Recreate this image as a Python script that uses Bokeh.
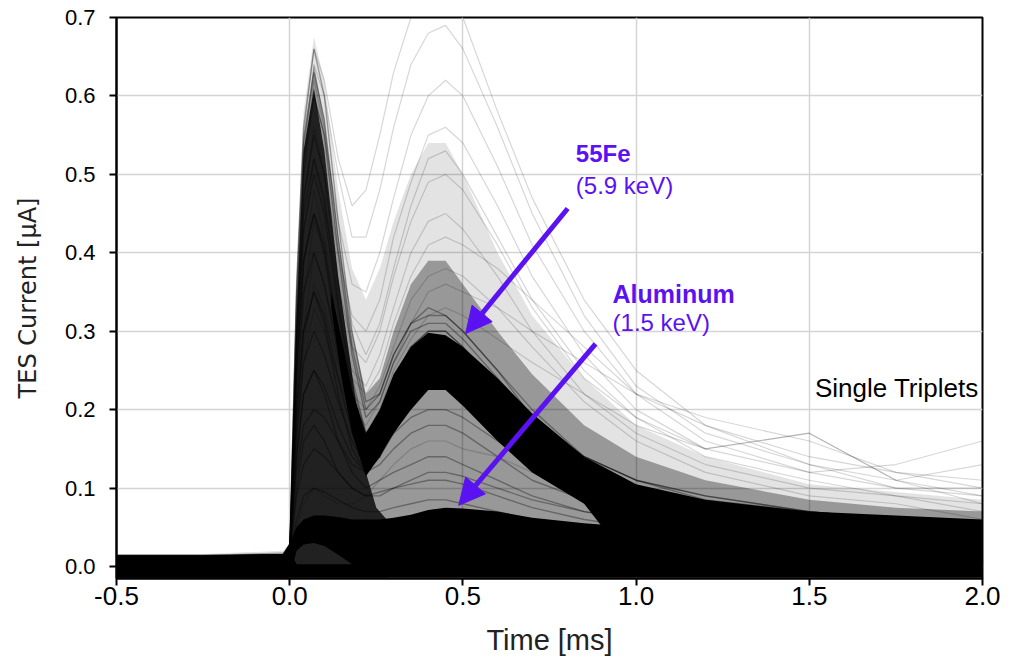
from bokeh.plotting import figure
from bokeh.models import Range1d, FixedTicker, PrintfTickFormatter, Label, Arrow, NormalHead
from bokeh.embed import file_html
from bokeh.resources import INLINE

# ---------------- data ----------------
t_ms = [-0.5, -0.25, -0.02, 0.0, 0.02, 0.04, 0.07, 0.10, 0.14, 0.18, 0.22, 0.26,
        0.30, 0.35, 0.40, 0.45, 0.50, 0.60, 0.70, 0.85, 1.0, 1.2, 1.5, 1.75, 2.0]

floor_ua = [-0.014] * 25

# density envelopes of the pulse cloud (upper edges)
light_hi = [0.016, 0.016, 0.02, 0.03, 0.38, 0.58, 0.675, 0.62, 0.48, 0.38, 0.34, 0.38,
            0.44, 0.50, 0.54, 0.54, 0.50, 0.40, 0.32, 0.24, 0.18, 0.14, 0.105, 0.095, 0.085]
mid_hi = [0.015, 0.015, 0.018, 0.025, 0.33, 0.55, 0.64, 0.57, 0.42, 0.30, 0.22, 0.24,
          0.30, 0.36, 0.39, 0.39, 0.36, 0.30, 0.245, 0.18, 0.14, 0.11, 0.085, 0.075, 0.07]
spike_t = [-0.5, -0.25, -0.02, 0.0, 0.02, 0.04, 0.07, 0.10, 0.14, 0.18, 0.22, 0.25, 0.28]
spike_hi = [0.015, 0.015, 0.016, 0.02, 0.32, 0.53, 0.61, 0.53, 0.37, 0.245, 0.12, 0.075, 0.06]

# baseline band
base_hi = [0.014, 0.014, 0.016, 0.02, 0.003, 0.003, 0.003, 0.003, 0.003, 0.003, 0.003, 0.003,
           0.004, 0.006, 0.008, 0.01, 0.01, 0.01, 0.01, 0.01, 0.01, 0.008, 0.006, 0.005, 0.004]
# small pulses + Aluminum band
low_lo = [-0.014, -0.014, -0.014, -0.014, 0.02, 0.028, 0.03, 0.026, 0.015, 0.003, -0.005, -0.008,
          -0.008, -0.008, -0.008, -0.008, -0.008, -0.008, -0.008, -0.008, -0.008, -0.008, -0.008, -0.008, -0.008]
low_hi = [0.014, 0.014, 0.016, 0.03, 0.05, 0.06, 0.065, 0.065, 0.063, 0.06, 0.06, 0.06,
          0.062, 0.066, 0.072, 0.075, 0.074, 0.07, 0.062, 0.055, 0.05, 0.048, 0.045, 0.045, 0.045]
# 55Fe band (with the falling branch of the first peak)
fe_t = [0.12, 0.15, 0.18, 0.22, 0.26, 0.30, 0.35, 0.40, 0.45, 0.50, 0.60, 0.70, 0.85,
        1.0, 1.2, 1.5, 1.75, 2.0]
fe_lo = [0.33, 0.24, 0.17, 0.115, 0.14, 0.17, 0.20, 0.225, 0.225, 0.205, 0.16, 0.12, 0.08,
         -0.005, -0.005, -0.005, -0.005, -0.005]
fe_hi = [0.35, 0.29, 0.225, 0.17, 0.20, 0.245, 0.28, 0.298, 0.295, 0.28, 0.24, 0.195, 0.14,
         0.105, 0.085, 0.07, 0.065, 0.06]

# individual traces of the main population
main_traces = [
    [0.004, 0.006, 0.008, 0.015, 0.36, 0.56, 0.66, 0.60, 0.44, 0.30, 0.21, 0.22, 0.27, 0.31, 0.33, 0.32, 0.30, 0.25, 0.20, 0.14, 0.11, 0.09, 0.07, 0.06, 0.055],
    [0.002, 0.004, 0.010, 0.015, 0.33, 0.52, 0.60, 0.55, 0.40, 0.27, 0.19, 0.21, 0.26, 0.30, 0.31, 0.31, 0.29, 0.24, 0.19, 0.14, 0.11, 0.085, 0.07, 0.06, 0.05],
    [0.006, 0.003, 0.007, 0.015, 0.30, 0.47, 0.55, 0.50, 0.36, 0.24, 0.17, 0.19, 0.24, 0.28, 0.30, 0.30, 0.28, 0.23, 0.18, 0.13, 0.10, 0.08, 0.065, 0.06, 0.05],
    [0.004, 0.005, 0.008, 0.015, 0.27, 0.43, 0.50, 0.45, 0.33, 0.22, 0.16, 0.18, 0.23, 0.27, 0.29, 0.29, 0.27, 0.22, 0.17, 0.13, 0.10, 0.08, 0.065, 0.055, 0.05],
    [0.003, 0.006, 0.009, 0.015, 0.25, 0.39, 0.45, 0.41, 0.30, 0.20, 0.15, 0.17, 0.22, 0.26, 0.28, 0.28, 0.26, 0.21, 0.17, 0.12, 0.095, 0.075, 0.06, 0.055, 0.05],
    [0.005, 0.004, 0.008, 0.015, 0.22, 0.35, 0.40, 0.36, 0.27, 0.19, 0.14, 0.16, 0.21, 0.25, 0.27, 0.27, 0.25, 0.20, 0.16, 0.12, 0.09, 0.075, 0.06, 0.05, 0.045],
    [0.004, 0.006, 0.007, 0.015, 0.20, 0.30, 0.35, 0.32, 0.24, 0.17, 0.13, 0.15, 0.20, 0.24, 0.26, 0.26, 0.24, 0.19, 0.15, 0.11, 0.09, 0.07, 0.06, 0.05, 0.045],
    [0.003, 0.005, 0.009, 0.015, 0.17, 0.26, 0.30, 0.27, 0.21, 0.16, 0.125, 0.14, 0.19, 0.23, 0.25, 0.25, 0.23, 0.19, 0.15, 0.11, 0.09, 0.07, 0.06, 0.05, 0.045],
    [0.005, 0.004, 0.008, 0.015, 0.14, 0.22, 0.25, 0.23, 0.18, 0.14, 0.12, 0.14, 0.18, 0.22, 0.24, 0.24, 0.22, 0.18, 0.14, 0.10, 0.085, 0.07, 0.055, 0.05, 0.045],
    [0.004, 0.006, 0.009, 0.015, 0.12, 0.18, 0.20, 0.19, 0.16, 0.13, 0.12, 0.14, 0.17, 0.21, 0.23, 0.23, 0.21, 0.17, 0.13, 0.10, 0.08, 0.065, 0.055, 0.05, 0.04],
    [0.003, 0.005, 0.008, 0.015, 0.09, 0.13, 0.15, 0.14, 0.12, 0.10, 0.09, 0.09, 0.10, 0.11, 0.12, 0.12, 0.115, 0.10, 0.085, 0.07, 0.06, 0.05, 0.045, 0.04, 0.035],
    [0.005, 0.004, 0.007, 0.015, 0.06, 0.09, 0.10, 0.095, 0.085, 0.075, 0.07, 0.07, 0.075, 0.08, 0.085, 0.085, 0.08, 0.07, 0.06, 0.05, 0.045, 0.04, 0.035, 0.03, 0.03],
    [0.004, 0.005, 0.008, 0.015, 0.19, 0.30, 0.35, 0.31, 0.22, 0.15, 0.12, 0.13, 0.15, 0.17, 0.18, 0.18, 0.17, 0.14, 0.11, 0.085, 0.07, 0.06, 0.05, 0.045, 0.04],
    [0.003, 0.006, 0.009, 0.015, 0.14, 0.22, 0.25, 0.22, 0.16, 0.12, 0.10, 0.11, 0.12, 0.13, 0.14, 0.14, 0.13, 0.11, 0.09, 0.07, 0.06, 0.05, 0.045, 0.04, 0.035],
    [0.005, 0.004, 0.008, 0.015, 0.25, 0.39, 0.45, 0.40, 0.28, 0.19, 0.14, 0.15, 0.17, 0.19, 0.20, 0.20, 0.19, 0.16, 0.13, 0.095, 0.075, 0.06, 0.05, 0.045, 0.04],
    [0.004, 0.006, 0.007, 0.015, 0.10, 0.16, 0.18, 0.16, 0.12, 0.10, 0.09, 0.095, 0.10, 0.105, 0.11, 0.11, 0.105, 0.09, 0.075, 0.06, 0.05, 0.045, 0.04, 0.035, 0.03],
    [0.003, 0.005, 0.009, 0.015, 0.35, 0.54, 0.63, 0.57, 0.42, 0.28, 0.20, 0.22, 0.27, 0.31, 0.32, 0.32, 0.30, 0.25, 0.19, 0.14, 0.11, 0.09, 0.07, 0.06, 0.05],
    [0.005, 0.004, 0.008, 0.015, 0.29, 0.45, 0.52, 0.47, 0.34, 0.23, 0.17, 0.19, 0.24, 0.28, 0.30, 0.30, 0.28, 0.22, 0.18, 0.13, 0.10, 0.08, 0.065, 0.055, 0.05],
]

# sparse outlier traces
faint_traces = [
    [0.004, 0.006, 0.008, 0.02, 0.35, 0.55, 0.66, 0.62, 0.52, 0.46, 0.48, 0.55, 0.63, 0.70, 0.74, 0.74, 0.70, 0.58, 0.47, 0.34, 0.25, 0.18, 0.13, 0.10, 0.09],
    [0.002, 0.005, 0.010, 0.02, 0.33, 0.52, 0.64, 0.60, 0.50, 0.42, 0.42, 0.48, 0.56, 0.64, 0.68, 0.69, 0.66, 0.56, 0.45, 0.32, 0.23, 0.17, 0.13, 0.11, 0.09],
    [0.006, 0.004, 0.008, 0.02, 0.30, 0.50, 0.60, 0.55, 0.44, 0.36, 0.35, 0.40, 0.47, 0.55, 0.60, 0.62, 0.60, 0.51, 0.41, 0.30, 0.22, 0.16, 0.12, 0.10, 0.10],
    [0.003, 0.007, 0.010, 0.02, 0.28, 0.46, 0.56, 0.50, 0.40, 0.32, 0.30, 0.34, 0.42, 0.49, 0.55, 0.56, 0.54, 0.46, 0.37, 0.27, 0.20, 0.15, 0.17, 0.11, 0.08],
    [0.005, 0.003, 0.008, 0.02, 0.25, 0.42, 0.52, 0.46, 0.36, 0.28, 0.26, 0.30, 0.37, 0.44, 0.49, 0.50, 0.48, 0.41, 0.33, 0.24, 0.19, 0.15, 0.12, 0.13, 0.16],
    [0.004, 0.006, 0.009, 0.02, 0.22, 0.38, 0.48, 0.42, 0.32, 0.25, 0.23, 0.27, 0.33, 0.40, 0.44, 0.45, 0.43, 0.37, 0.30, 0.22, 0.17, 0.13, 0.10, 0.09, 0.07],
    [0.002, 0.004, 0.007, 0.02, 0.20, 0.34, 0.44, 0.40, 0.30, 0.24, 0.22, 0.25, 0.31, 0.37, 0.41, 0.42, 0.41, 0.38, 0.34, 0.28, 0.22, 0.18, 0.14, 0.12, 0.11],
    [0.006, 0.005, 0.010, 0.02, 0.18, 0.30, 0.40, 0.36, 0.28, 0.22, 0.20, 0.23, 0.28, 0.34, 0.37, 0.38, 0.37, 0.33, 0.28, 0.21, 0.16, 0.12, 0.09, 0.08, 0.06],
    [0.004, 0.007, 0.008, 0.02, 0.16, 0.28, 0.36, 0.33, 0.26, 0.20, 0.18, 0.21, 0.26, 0.31, 0.35, 0.36, 0.35, 0.33, 0.30, 0.26, 0.22, 0.19, 0.16, 0.12, 0.10],
    [0.003, 0.004, 0.009, 0.02, 0.15, 0.26, 0.33, 0.30, 0.24, 0.19, 0.17, 0.20, 0.25, 0.29, 0.32, 0.33, 0.32, 0.29, 0.26, 0.22, 0.18, 0.15, 0.17, 0.11, 0.13],
    [0.005, 0.006, 0.008, 0.02, 0.05, 0.08, 0.10, 0.09, 0.08, 0.08, 0.09, 0.11, 0.13, 0.15, 0.16, 0.16, 0.15, 0.14, 0.12, 0.10, 0.09, 0.08, 0.07, 0.06, 0.05],
    [0.004, 0.005, 0.010, 0.02, 0.30, 0.50, 0.62, 0.56, 0.42, 0.31, 0.27, 0.31, 0.38, 0.46, 0.52, 0.53, 0.50, 0.42, 0.34, 0.25, 0.19, 0.14, 0.11, 0.09, 0.08],
]

x_ticks = [-0.5, 0.0, 0.5, 1.0, 1.5, 2.0]
y_ticks = [0.0, 0.1, 0.2, 0.3, 0.4, 0.5, 0.6, 0.7]

PURPLE = "#5b12f2"

# ---------------- figure ----------------
p = figure(width=1010, height=660, output_backend="svg", toolbar_location=None,
           x_range=Range1d(-0.5, 2.0), y_range=Range1d(-0.0153, 0.7),
           min_border_left=116, min_border_right=28, min_border_top=17, min_border_bottom=82)
p.background_fill_color = "white"
p.border_fill_color = "white"
p.outline_line_color = "black"
p.outline_line_width = 2

p.grid.grid_line_color = "#d4d4d4"
p.grid.grid_line_width = 1.5

for ax in (p.xaxis[0], p.yaxis[0]):
    ax.axis_line_width = 2
    ax.major_tick_line_width = 2
    ax.major_tick_out = 7
    ax.major_tick_in = 0
    ax.minor_tick_line_color = None
    ax.major_label_text_font = "Liberation Sans"
    ax.major_label_text_color = "black"
    ax.axis_label_text_font_style = "normal"
    ax.axis_label_text_color = "#222222"

p.xaxis.ticker = FixedTicker(ticks=x_ticks)
p.yaxis.ticker = FixedTicker(ticks=y_ticks)
p.xaxis.formatter = PrintfTickFormatter(format="%.1f")
p.yaxis.formatter = PrintfTickFormatter(format="%.1f")
p.xaxis.major_label_text_font_size = "26px"
p.yaxis.major_label_text_font_size = "22px"
p.xaxis.major_label_standoff = 1
p.yaxis.major_label_standoff = 14

p.xaxis.axis_label = "Time [ms]"
p.xaxis.axis_label_text_font = "Liberation Sans"
p.xaxis.axis_label_text_font_size = "29px"
p.xaxis.axis_label_standoff = 16

p.yaxis.axis_label = "TES Current [μA]"
p.yaxis.axis_label_text_font = "DejaVu Sans"
p.yaxis.axis_label_text_font_size = "24px"
p.yaxis.axis_label_standoff = 20

# density layers
p.varea(x=t_ms, y1=floor_ua, y2=light_hi, fill_color="black", fill_alpha=0.11)
p.varea(x=t_ms, y1=floor_ua, y2=mid_hi, fill_color="black", fill_alpha=0.33)
p.varea(x=spike_t, y1=floor_ua[:len(spike_t)], y2=spike_hi, fill_color="black", fill_alpha=0.78)

# traces
p.multi_line(xs=[t_ms] * len(faint_traces), ys=faint_traces, line_color="black",
             line_alpha=0.16, line_width=1.2)
p.multi_line(xs=[t_ms] * len(main_traces), ys=main_traces, line_color="black",
             line_alpha=0.33, line_width=1.4)

# dense (solid) bands
p.varea(x=t_ms, y1=floor_ua, y2=base_hi, fill_color="black", fill_alpha=1.0)
p.varea(x=t_ms, y1=low_lo, y2=low_hi, fill_color="black", fill_alpha=1.0)
p.varea(x=fe_t, y1=fe_lo, y2=fe_hi, fill_color="black", fill_alpha=1.0)

# annotations
p.add_layout(Arrow(end=NormalHead(size=26, fill_color=PURPLE, line_color=PURPLE),
                   x_start=0.8025, y_start=0.4565, x_end=0.508, y_end=0.297,
                   line_color=PURPLE, line_width=5))
p.add_layout(Arrow(end=NormalHead(size=26, fill_color=PURPLE, line_color=PURPLE),
                   x_start=0.883, y_start=0.284, x_end=0.488, y_end=0.078,
                   line_color=PURPLE, line_width=5))

p.add_layout(Label(x=0.826, y=0.509, text="55Fe", text_font="Liberation Sans",
                   text_font_style="bold", text_font_size="24px", text_color=PURPLE))
p.add_layout(Label(x=0.826, y=0.469, text="(5.9 keV)", text_font="Liberation Sans",
                   text_font_size="24px", text_color=PURPLE))
p.add_layout(Label(x=0.932, y=0.330, text="Aluminum", text_font="Liberation Sans",
                   text_font_style="bold", text_font_size="25px", text_color=PURPLE))
p.add_layout(Label(x=0.932, y=0.2945, text="(1.5 keV)", text_font="Liberation Sans",
                   text_font_size="24px", text_color=PURPLE))
p.add_layout(Label(x=1.989, y=0.209, text="Single Triplets", text_font="Liberation Sans",
                   text_font_size="26px", text_color="black", text_align="right"))

open("out.html", "w").write(file_html(p, INLINE))
